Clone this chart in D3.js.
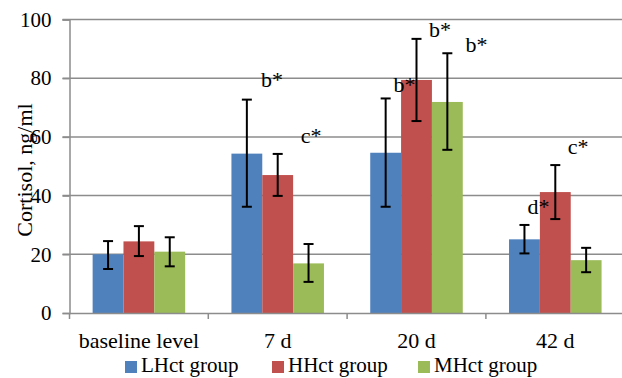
<!DOCTYPE html>
<html><head><meta charset="utf-8">
<script src="https://cdn.jsdelivr.net/npm/d3@7"></script>
<style>body{margin:0;background:#fff;} svg text{font-family:"Liberation Serif","Times New Roman",Tinos,"DejaVu Serif",serif !important;}</style>
</head><body><svg id="c" width="622" height="378"></svg>
<script>
const categories = ["baseline level", "7 d", "20 d", "42 d"];
const seriesNames = ["LHct group", "HHct group", "MHct group"];
const colors = ["#4f81bd", "#c0504d", "#9bbb59"];
const LHct = [20.0, 54.3, 54.6, 25.1];
const HHct = [24.4, 47.0, 79.4, 41.2];
const MHct = [20.9, 16.9, 71.9, 18.0];
const LHctErrHi = [24.5, 72.7, 73.1, 30.0];
const LHctErrLo = [15.0, 36.2, 36.2, 20.3];
const HHctErrHi = [29.6, 54.2, 93.4, 50.4];
const HHctErrLo = [19.4, 39.9, 65.4, 32.0];
const MHctErrHi = [25.8, 23.5, 88.5, 22.2];
const MHctErrLo = [15.9, 10.6, 55.6, 13.9];
const yTicks = [0, 20, 40, 60, 80, 100];
// annotations: [category index, label, value at baseline, horizontal position within category band (0..1)]
const annotations = [
  [1, "b*", 77.0, 0.459], [1, "c*", 57.9, 0.740],
  [2, "b*", 75.3, 0.414], [2, "b*", 94.0, 0.669], [2, "b*", 88.9, 0.932],
  [3, "d*", 33.7, 0.379], [3, "c*", 54.2, 0.664]
];

const values = [LHct, HHct, MHct];
const errHi = [LHctErrHi, HHctErrHi, MHctErrHi];
const errLo = [LHctErrLo, HHctErrLo, MHctErrLo];

const svg = d3.select("#c");
const mLeft = 69.5, mRight = 624.7, mTop = 19.5, mBottom = 313;
const x = d3.scaleBand().domain(categories).range([mLeft, mRight]).paddingInner(0).paddingOuter(0);
const bw = x.bandwidth();
const xs = d3.scaleBand().domain(d3.range(3)).range([bw * 0.75 / 4.5, bw - bw * 0.75 / 4.5]);
const y = d3.scaleLinear().domain([0, 100]).range([mBottom, mTop]);
const FONT = "Liberation Serif, Times New Roman, serif";

// gridlines
svg.append("g").selectAll("line").data(yTicks.slice(1)).join("line")
  .attr("x1", mLeft - 7).attr("x2", 622).attr("y1", d => y(d)).attr("y2", d => y(d))
  .attr("stroke", "#8c8c8c").attr("stroke-width", 1.5);

// bars
const g = svg.append("g");
values.forEach((vals, si) => {
  g.selectAll(null).data(vals).join("rect")
    .attr("x", (d, i) => x(categories[i]) + xs(si))
    .attr("width", xs.bandwidth())
    .attr("y", d => y(d))
    .attr("height", d => y(0) - y(d))
    .attr("fill", colors[si]);
});

// error bars
values.forEach((vals, si) => {
  vals.forEach((v, i) => {
    const cx = x(categories[i]) + xs(si) + xs.bandwidth() / 2;
    const hi = y(errHi[si][i]), lo = y(errLo[si][i]);
    const e = g.append("g").attr("stroke", "#000").attr("stroke-width", 2);
    e.append("line").attr("x1", cx).attr("x2", cx).attr("y1", hi).attr("y2", lo);
    e.append("line").attr("x1", cx - 5).attr("x2", cx + 5).attr("y1", hi).attr("y2", hi);
    e.append("line").attr("x1", cx - 5).attr("x2", cx + 5).attr("y1", lo).attr("y2", lo);
  });
});

// axes
const yAxis = d3.axisLeft(y).tickValues(yTicks).tickSize(7).tickPadding(11);
const ya = svg.append("g").attr("transform", `translate(${mLeft},0)`).call(yAxis).attr("font-family", FONT);
ya.select(".domain").attr("stroke", "#8c8c8c").attr("stroke-width", 1.5);
ya.selectAll(".tick line").attr("stroke", "#8c8c8c").attr("stroke-width", 1.5);
ya.selectAll("text").attr("font-size", 21).attr("fill", "#000");

const xAxis = d3.axisBottom(x).tickSize(0).tickPadding(19);
const xa = svg.append("g").attr("transform", `translate(0,${mBottom})`).call(xAxis).attr("font-family", FONT);
xa.select(".domain").attr("stroke", "#8c8c8c").attr("stroke-width", 1.5);
xa.selectAll("text").attr("font-size", 22).attr("fill", "#000");
// category boundary ticks
xa.selectAll(".bnd").data(categories).join("line").attr("class", "bnd")
  .attr("x1", d => x(d)).attr("x2", d => x(d)).attr("y1", 0).attr("y2", 6)
  .attr("stroke", "#8c8c8c").attr("stroke-width", 1.5);

// annotations
svg.append("g").selectAll("text").data(annotations).join("text")
  .attr("x", d => x(categories[d[0]]) + d[3] * bw)
  .attr("y", d => y(d[2]))
  .attr("text-anchor", "middle")
  .attr("font-size", 22).attr("fill", "#000")
  .text(d => d[1]);

// y title
svg.append("text").attr("transform", "translate(32,170) rotate(-90)")
  .attr("text-anchor", "middle").attr("font-size", 22).attr("fill", "#000")
  .text("Cortisol, ng/ml");

// legend
const legX = [125, 272, 418];
const leg = svg.append("g");
seriesNames.forEach((n, i) => {
  leg.append("rect").attr("x", legX[i]).attr("y", 361).attr("width", 12).attr("height", 12).attr("fill", colors[i]);
  leg.append("text").attr("x", legX[i] + 16).attr("y", 372).attr("font-size", 21).attr("fill", "#000").text(n);
});
</script></body></html>
